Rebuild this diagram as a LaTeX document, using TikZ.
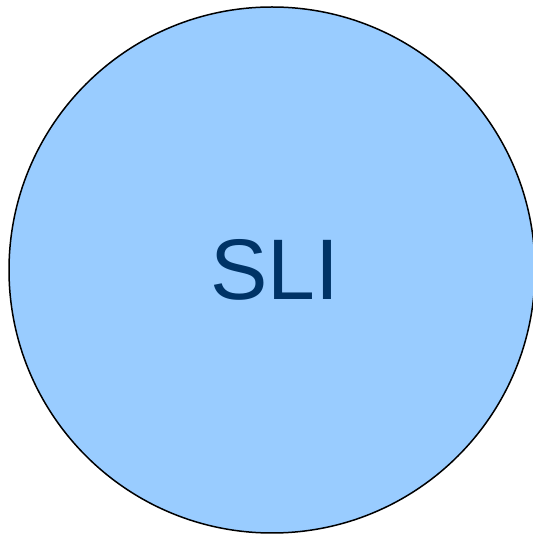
\documentclass[tikz,border=0pt]{standalone}
\usepackage{fontspec}
\setmainfont{Liberation Sans}
\definecolor{slifill}{HTML}{99CCFF}
\definecolor{slitext}{HTML}{003366}
\begin{document}
\begin{tikzpicture}[
	x=1pt,y=1pt,
	slicircle/.style={circle,draw=black,line width=1.5pt,fill=slifill,minimum size=526pt,inner sep=0pt}
]

	\useasboundingbox (0,0) rectangle (533,536);

	\node[slicircle] at (272,266) (sli) {};
	\node[text=slitext,font=\fontsize{86}{90}\selectfont] at (275,266) (label) {SLI};

\end{tikzpicture}
\end{document}
